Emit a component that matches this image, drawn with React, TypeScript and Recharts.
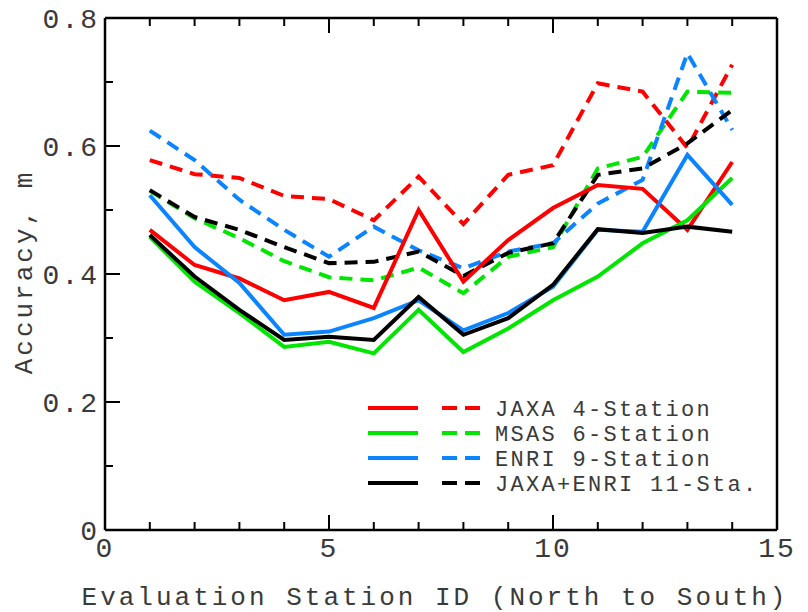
import React from 'react';
import { LineChart, Line, XAxis, YAxis } from 'recharts';

const stationIds = [1, 2, 3, 4, 5, 6, 7, 8, 9, 10, 11, 12, 13, 14];

const jaxa4Solid = [0.469, 0.414, 0.393, 0.359, 0.372, 0.347, 0.5, 0.388, 0.453, 0.503, 0.539, 0.533, 0.469, 0.575];
const jaxa4Dashed = [0.578, 0.556, 0.55, 0.522, 0.517, 0.484, 0.552, 0.478, 0.555, 0.57, 0.698, 0.685, 0.597, 0.727];
const msas6Solid = [0.458, 0.388, 0.339, 0.286, 0.294, 0.276, 0.344, 0.278, 0.315, 0.359, 0.396, 0.448, 0.484, 0.55];
const msas6Dashed = [0.53, 0.487, 0.456, 0.42, 0.395, 0.39, 0.41, 0.37, 0.427, 0.442, 0.565, 0.583, 0.685, 0.683];
const enri9Solid = [0.523, 0.442, 0.386, 0.305, 0.31, 0.331, 0.359, 0.312, 0.339, 0.38, 0.469, 0.466, 0.586, 0.508];
const enri9Dashed = [0.624, 0.578, 0.516, 0.469, 0.427, 0.474, 0.437, 0.409, 0.435, 0.448, 0.51, 0.547, 0.745, 0.625];
const je11Solid = [0.461, 0.396, 0.344, 0.297, 0.302, 0.297, 0.364, 0.305, 0.331, 0.383, 0.47, 0.464, 0.474, 0.466];
const je11Dashed = [0.531, 0.489, 0.469, 0.442, 0.417, 0.419, 0.435, 0.397, 0.433, 0.448, 0.555, 0.565, 0.604, 0.656];

const xTicks = [0, 1, 2, 3, 4, 5, 6, 7, 8, 9, 10, 11, 12, 13, 14, 15];
const yTicks = [0, 0.1, 0.2, 0.3, 0.4, 0.5, 0.6, 0.7, 0.8];

const series = [
  { key: 'jaxa4', name: 'JAXA 4-Station', color: '#ff0000', solid: jaxa4Solid, dashed: jaxa4Dashed },
  { key: 'msas6', name: 'MSAS 6-Station', color: '#00e600', solid: msas6Solid, dashed: msas6Dashed },
  { key: 'enri9', name: 'ENRI 9-Station', color: '#0a84ff', solid: enri9Solid, dashed: enri9Dashed },
  { key: 'je11', name: 'JAXA+ENRI 11-Sta.', color: '#000000', solid: je11Solid, dashed: je11Dashed },
];

const data = stationIds.map((id, i) => {
  const row: Record<string, number> = { id };
  series.forEach((s) => {
    row[s.key + 'Solid'] = s.solid[i];
    row[s.key + 'Dashed'] = s.dashed[i];
  });
  return row;
});

const FONT = "'Courier New', 'Liberation Mono', monospace";
const TEXT_COLOR = '#3a3a3a';

// ticks point into the plot, labels sit outside
function BottomTick({ x, y, payload }: any) {
  const major = payload.value % 5 === 0;
  return (
    <g>
      <line x1={x} y1={y} x2={x} y2={y - (major ? 15 : 8)} stroke="#000" strokeWidth={2} />
      {major && (
        <text x={x} y={y + 27} textAnchor="middle" fontFamily={FONT} fontSize={28} letterSpacing={2} fill={TEXT_COLOR}>
          {payload.value}
        </text>
      )}
    </g>
  );
}

function TopTick({ x, y, payload }: any) {
  const major = payload.value % 5 === 0;
  return <line x1={x} y1={y} x2={x} y2={y + (major ? 15 : 8)} stroke="#000" strokeWidth={2} />;
}

function LeftTick({ x, y, payload }: any) {
  const major = Math.round(payload.value * 10) % 2 === 0;
  const label = payload.value === 0 ? '0' : payload.value.toFixed(1);
  return (
    <g>
      <line x1={x} y1={y} x2={x + (major ? 15 : 8)} y2={y} stroke="#000" strokeWidth={2} />
      {major && (
        <text x={x - 6} y={y + 10} textAnchor="end" fontFamily={FONT} fontSize={28} letterSpacing={2} fill={TEXT_COLOR}>
          {label}
        </text>
      )}
    </g>
  );
}

function RightTick({ x, y, payload }: any) {
  const major = Math.round(payload.value * 10) % 2 === 0;
  return <line x1={x} y1={y} x2={x - (major ? 15 : 8)} y2={y} stroke="#000" strokeWidth={2} />;
}

const axisLine = { stroke: '#000', strokeWidth: 2.5 };

export default function App() {
  return (
    <div style={{ position: 'absolute', left: 0, top: 0, width: 808, height: 612, background: '#fff' }}>
      <LineChart width={808} height={612} data={data} margin={{ top: 17, right: 30, bottom: 81, left: 104 }}>
        <XAxis
          xAxisId="bottom"
          dataKey="id"
          type="number"
          domain={[0, 15]}
          ticks={xTicks}
          interval={0}
          height={1}
          tickSize={0}
          tickMargin={0}
          tickLine={false}
          axisLine={axisLine}
          tick={<BottomTick />}
        />
        <XAxis
          xAxisId="top"
          orientation="top"
          dataKey="id"
          type="number"
          domain={[0, 15]}
          ticks={xTicks}
          interval={0}
          height={1}
          tickSize={0}
          tickMargin={0}
          tickLine={false}
          axisLine={axisLine}
          tick={<TopTick />}
        />
        <YAxis
          yAxisId="left"
          type="number"
          domain={[0, 0.8]}
          ticks={yTicks}
          interval={0}
          width={1}
          tickSize={0}
          tickMargin={0}
          tickLine={false}
          axisLine={axisLine}
          tick={<LeftTick />}
        />
        <YAxis
          yAxisId="right"
          orientation="right"
          type="number"
          domain={[0, 0.8]}
          ticks={yTicks}
          interval={0}
          width={1}
          tickSize={0}
          tickMargin={0}
          tickLine={false}
          axisLine={axisLine}
          tick={<RightTick />}
        />
        {series.map((s) => (
          <Line
            key={s.key + 'Dashed'}
            xAxisId="bottom"
            yAxisId="left"
            type="linear"
            dataKey={s.key + 'Dashed'}
            stroke={s.color}
            strokeWidth={4}
            strokeDasharray="13 8"
            dot={false}
            isAnimationActive={false}
          />
        ))}
        {series.map((s) => (
          <Line
            key={s.key + 'Solid'}
            xAxisId="bottom"
            yAxisId="left"
            type="linear"
            dataKey={s.key + 'Solid'}
            stroke={s.color}
            strokeWidth={4}
            dot={false}
            isAnimationActive={false}
          />
        ))}
      </LineChart>

      <svg width={808} height={612} style={{ position: 'absolute', left: 0, top: 0, pointerEvents: 'none' }}>
        {series.map((s, i) => {
          const y = 408 + i * 25;
          return (
            <g key={s.key}>
              <line x1={368} y1={y} x2={418} y2={y} stroke={s.color} strokeWidth={4} />
              <line x1={442} y1={y} x2={480} y2={y} stroke={s.color} strokeWidth={4} strokeDasharray="15 8" />
              <text x={495} y={y + 8} fontFamily={FONT} fontSize={22} letterSpacing={2.3} fill={TEXT_COLOR}>
                {s.name}
              </text>
            </g>
          );
        })}
        <text
          x={25}
          y={272}
          transform="rotate(-90 25 272)"
          textAnchor="middle"
          dominantBaseline="central"
          fontFamily={FONT}
          fontSize={26}
          letterSpacing={3}
          fill={TEXT_COLOR}
        >
          Accuracy, m
        </text>
        <text
          x={435}
          y={605}
          textAnchor="middle"
          fontFamily={FONT}
          fontSize={26}
          letterSpacing={3}
          fill={TEXT_COLOR}
        >
          Evaluation Station ID (North to South)
        </text>
      </svg>
    </div>
  );
}
